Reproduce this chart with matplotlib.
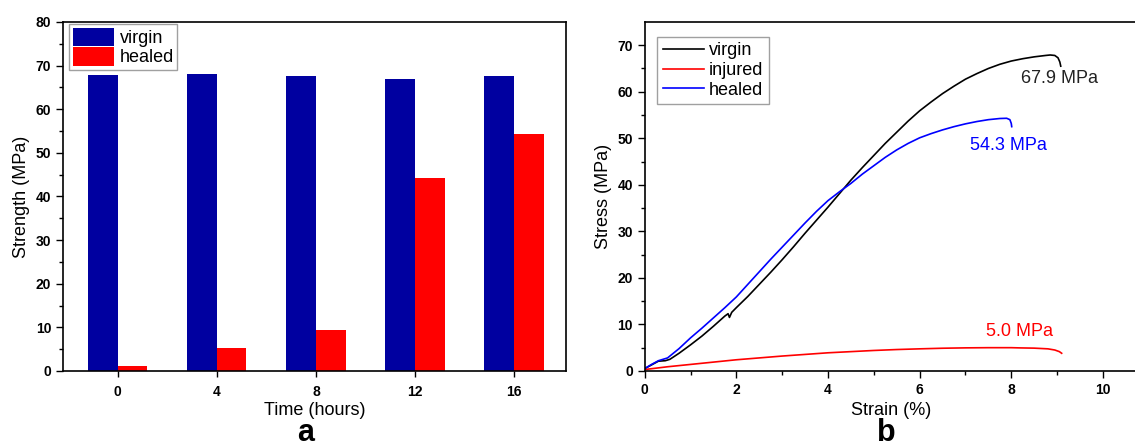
import numpy as np
import matplotlib.pyplot as plt

plt.rcParams['font.family'] = ['Liberation Sans', 'DejaVu Sans']

# panel a: strength vs healing time
times = ['0', '4', '8', '12', '16']
virgin_strength = [67.8, 68.0, 67.5, 67.0, 67.5]
healed_strength = [1.1, 5.2, 9.3, 44.3, 54.3]

# panel b: stress-strain curves
virgin_strain = [0.0, 0.15, 0.3, 0.45, 0.55, 0.75, 1.0, 1.25, 1.5, 1.75, 1.82, 1.85, 1.9, 2.0,
                 2.25, 2.5, 2.75, 3.0, 3.25, 3.5, 3.75, 4.0, 4.25, 4.5, 4.75, 5.0, 5.25, 5.5,
                 5.75, 6.0, 6.25, 6.5, 6.75, 7.0, 7.25, 7.5, 7.75, 8.0, 8.25, 8.5, 8.75, 8.85,
                 8.95, 9.02, 9.06, 9.08]
virgin_stress = [0.5, 1.3, 2.1, 2.2, 2.5, 3.8, 5.6, 7.5, 9.6, 11.8, 12.3, 11.5, 12.6, 13.6,
                 16.0, 18.6, 21.2, 23.9, 26.7, 29.6, 32.4, 35.2, 38.1, 41.0, 43.7, 46.3, 48.9, 51.3,
                 53.7, 55.9, 57.8, 59.6, 61.2, 62.7, 63.9, 65.0, 65.9, 66.6, 67.1, 67.5, 67.8, 67.9,
                 67.8, 67.3, 66.4, 65.5]

healed_strain = [0.0, 0.15, 0.3, 0.5, 0.75, 1.0, 1.25, 1.5, 1.75, 2.0, 2.25, 2.5, 2.75, 3.0,
                 3.25, 3.5, 3.75, 4.0, 4.25, 4.5, 4.75, 5.0, 5.25, 5.5, 5.75, 6.0, 6.25, 6.5,
                 6.75, 7.0, 7.25, 7.5, 7.75, 7.9, 7.97, 8.0, 8.01]
healed_stress = [0.5, 1.4, 2.2, 2.8, 4.8, 7.1, 9.2, 11.4, 13.6, 15.9, 18.6, 21.3, 24.0, 26.6,
                 29.2, 31.8, 34.3, 36.6, 38.5, 40.3, 42.3, 44.1, 45.9, 47.5, 48.9, 50.1, 51.0, 51.8,
                 52.5, 53.1, 53.6, 54.0, 54.25, 54.3, 54.0, 53.2, 52.5]

injured_strain = [0.0, 0.5, 1.0, 1.4, 1.5, 2.0, 2.5, 3.0, 3.5, 4.0, 4.5, 5.0, 5.5, 6.0, 6.5,
                  7.0, 7.5, 8.0, 8.2, 8.5, 8.8, 8.95, 9.05, 9.1]
injured_stress = [0.3, 0.9, 1.4, 1.8, 1.9, 2.4, 2.8, 3.2, 3.55, 3.9, 4.15, 4.4, 4.6, 4.75, 4.88,
                  4.96, 5.0, 5.0, 4.95, 4.9, 4.75, 4.5, 4.15, 3.8]

# failure strengths written next to the curves
peak_virgin = 67.9
peak_healed = 54.3
peak_injured = 5.0

navy = '#0000a0'
tick_font = dict(fontsize=10, fontweight='bold')

fig = plt.figure(figsize=(11.35, 4.48), dpi=100)

# ---- panel a ----
ax1 = fig.add_axes([0.0555, 0.172, 0.443, 0.779])
x = np.arange(len(times))
w = 0.3
ax1.bar(x - w / 2, virgin_strength, w, color=navy, label='virgin')
ax1.bar(x + w / 2, healed_strength, w, color='#ff0000', label='healed')
ax1.set_xlim(-0.55, 4.52)
ax1.set_ylim(0, 80)
ax1.set_xticks(x)
ax1.set_xticklabels(times, **tick_font)
ax1.set_yticks(np.arange(0, 81, 10))
ax1.set_yticklabels([str(v) for v in range(0, 81, 10)], **tick_font)
ax1.set_yticks(np.arange(5, 80, 10), minor=True)
ax1.tick_params(axis='x', direction='out', length=4, width=1, pad=6)
ax1.tick_params(axis='y', which='major', direction='out', length=5, width=1)
ax1.tick_params(axis='y', which='minor', direction='out', length=3, width=1)
ax1.set_xlabel('Time (hours)', fontsize=13, labelpad=2)
ax1.set_ylabel('Strength (MPa)', fontsize=13, labelpad=4)
leg1 = ax1.legend(loc='upper left', bbox_to_anchor=(0.012, 0.994), borderaxespad=0,
                  fontsize=13, handlelength=2.3, handleheight=1.2,
                  labelspacing=0.0, handletextpad=0.3, borderpad=0.2,
                  fancybox=False, edgecolor='#888888')
leg1.get_frame().set_linewidth(1.0)
for s in ax1.spines.values():
    s.set_linewidth(1.2)
fig.text(0.269, 0.0, 'a', fontsize=22, fontweight='bold', ha='center', va='bottom')

# ---- panel b ----
ax2 = fig.add_axes([0.568, 0.172, 0.434, 0.779])
ax2.plot(virgin_strain, virgin_stress, color='black', lw=1.2, label='virgin')
ax2.plot(injured_strain, injured_stress, color='#ff0000', lw=1.2, label='injured')
ax2.plot(healed_strain, healed_stress, color='#0000ff', lw=1.2, label='healed')
ax2.set_xlim(0, 10.75)
ax2.set_ylim(0, 75)
ax2.set_xticks(np.arange(0, 11, 2))
ax2.set_xticklabels([str(v) for v in range(0, 11, 2)], **tick_font)
ax2.set_xticks(np.arange(1, 11, 2), minor=True)
ax2.set_yticks(np.arange(0, 71, 10))
ax2.set_yticklabels([str(v) for v in range(0, 71, 10)], **tick_font)
ax2.set_yticks(np.arange(5, 75, 10), minor=True)
ax2.tick_params(which='major', direction='out', length=5, width=1)
ax2.tick_params(which='minor', direction='out', length=3, width=1)
ax2.set_xlabel('Strain (%)', fontsize=13, labelpad=4)
ax2.set_ylabel('Stress (MPa)', fontsize=13, labelpad=4)
ax2.text(9.06, 62.8, '%.1f MPa' % peak_virgin, fontsize=13, color='#222222', ha='center', va='center')
ax2.text(7.94, 48.5, '%.1f MPa' % peak_healed, fontsize=13, color='#0000ff', ha='center', va='center')
ax2.text(8.17, 8.4, '%.1f MPa' % peak_injured, fontsize=13, color='#ff0000', ha='center', va='center')
leg2 = ax2.legend(loc='upper left', bbox_to_anchor=(0.026, 0.957), borderaxespad=0,
                  fontsize=13, handlelength=2.25, labelspacing=0.15,
                  handletextpad=0.3, borderpad=0.3,
                  fancybox=False, edgecolor='#888888')
leg2.get_frame().set_linewidth(1.0)
ax2.spines['right'].set_visible(False)
for s in ax2.spines.values():
    s.set_linewidth(1.2)
fig.text(0.781, 0.0, 'b', fontsize=22, fontweight='bold', ha='center', va='bottom')

fig.savefig('out.png', dpi=100)
